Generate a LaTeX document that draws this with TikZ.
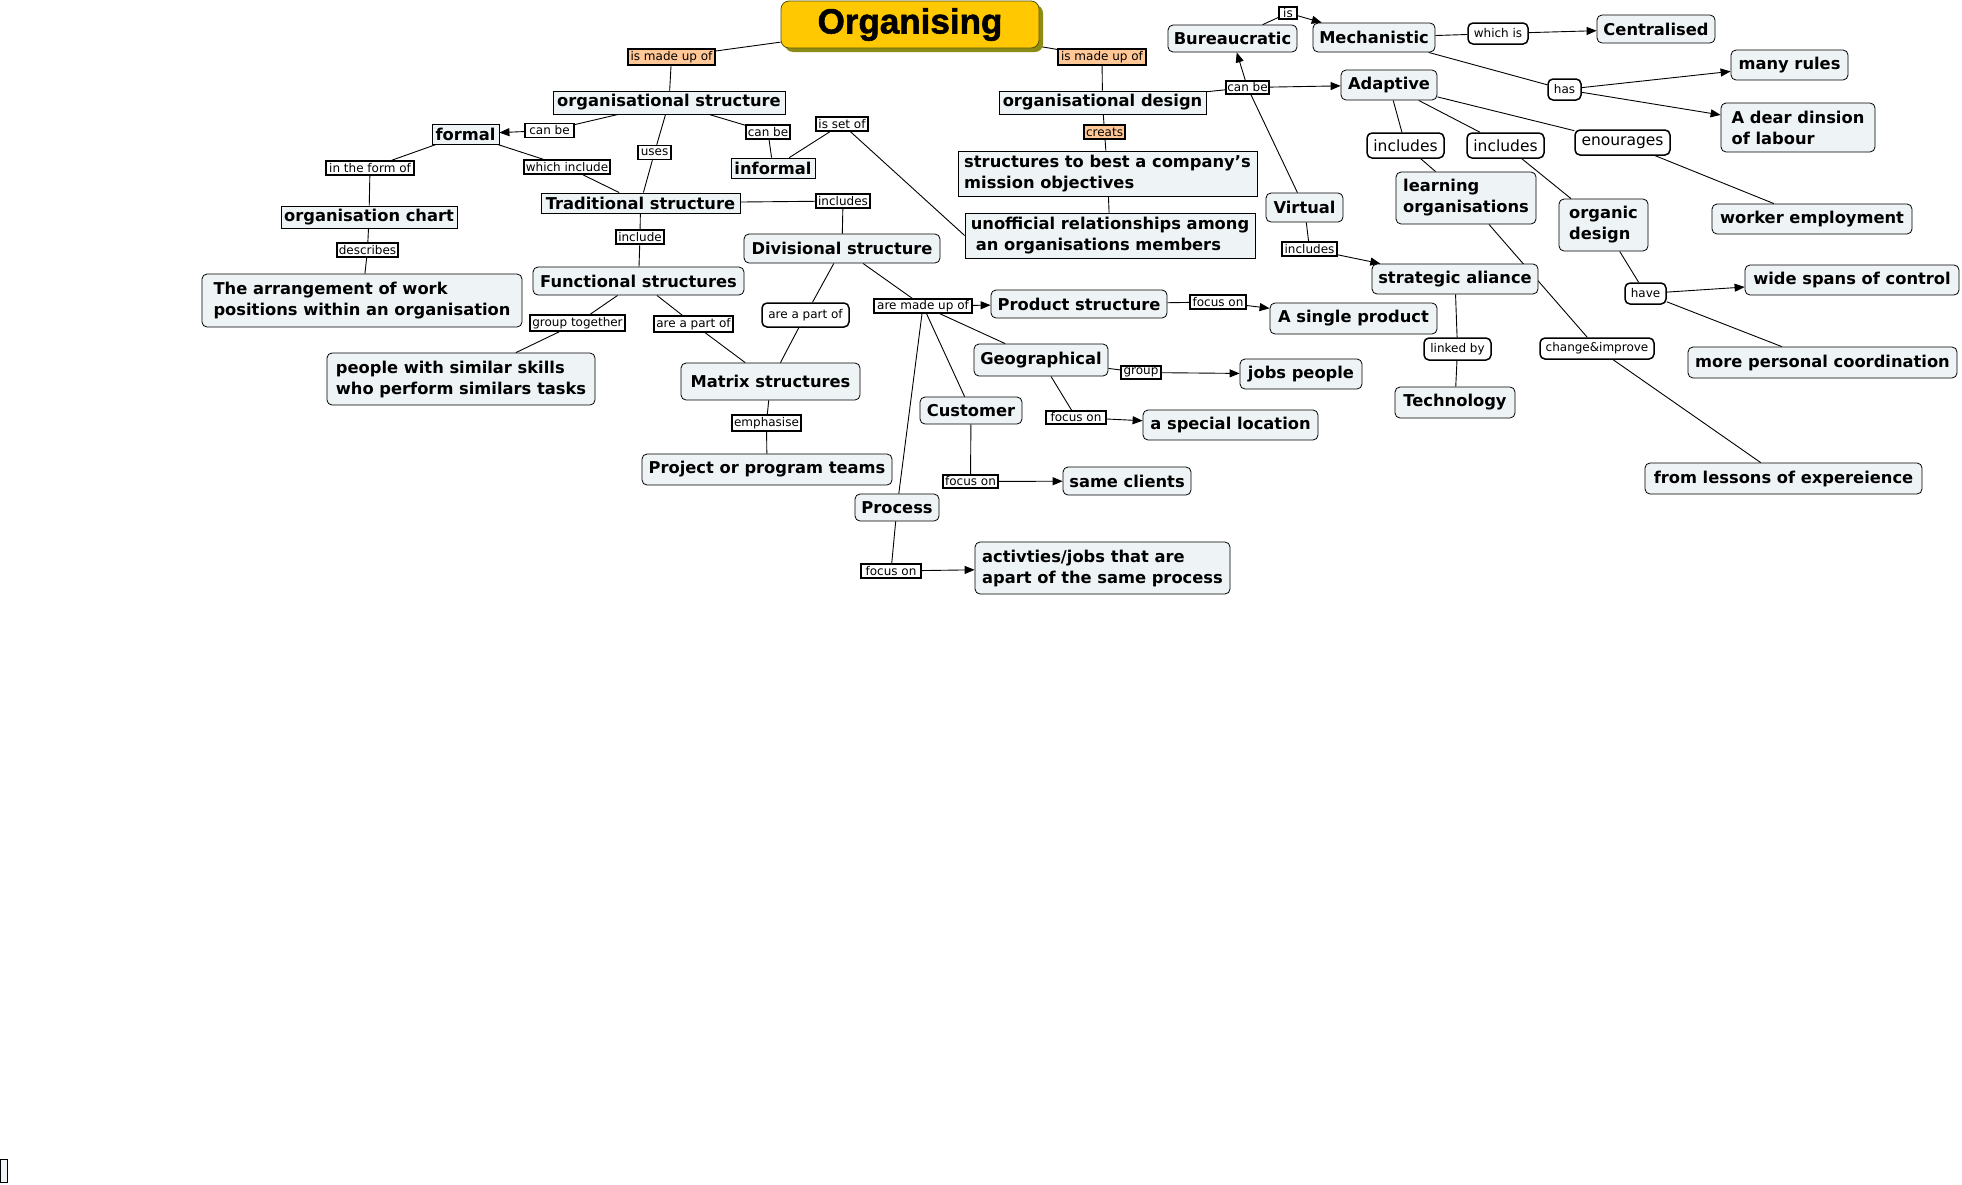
\documentclass[tikz,border=0pt]{standalone}
\usepackage{fontspec}
\setmainfont{DejaVu Sans}
\newfontfamily\titlefont[BoldFeatures={FakeBold=1.6}]{Liberation Sans}
\usetikzlibrary{arrows.meta,shadows}
\definecolor{cfill}{RGB}{238,244,245}
\definecolor{lorange}{RGB}{255,200,150}
\definecolor{gold}{RGB}{255,200,0}
\definecolor{olivesh}{RGB}{140,140,20}
\pgfdeclarelayer{bg}
\pgfsetlayers{bg,main}
\tikzset{
 concept/.style={draw=black, line width=0.8pt, fill=cfill, inner sep=2pt, font=\fontsize{16.3}{21}\selectfont\bfseries, align=center},
 cr/.style={concept, rounded corners=5pt},
 cs/.style={concept},
 lab/.style={draw=black, line width=1.5pt, fill=white, inner sep=1pt, font=\fontsize{12}{14}\selectfont},
 olab/.style={lab, fill=lorange},
 rlab/.style={lab, rounded corners=5pt},
 blab/.style={rlab, font=\fontsize{15.5}{18}\selectfont},
 link/.style={line width=0.9pt, draw=black},
 arr/.style={link, -{Triangle[length=10pt,width=8pt]}},
}
\begin{document}
\begin{tikzpicture}[x=1pt,y=-1pt]
\useasboundingbox (0,0) rectangle (1962,1184);
% title
\node[draw=olivesh!60!black, line width=0.8pt, fill=gold, rounded corners=8pt, minimum width=258pt, minimum height=47pt, font=\titlefont\fontsize{35}{40}\selectfont\bfseries, drop shadow={shadow xshift=4pt, shadow yshift=-4pt, fill=olivesh, opacity=1}] (org) at (910,24.5) {Organising};
% concepts (square)
\node[cs, minimum width=232pt, minimum height=23pt] (orgstruct) at (669,102.5) {organisational structure};
\node[cs, minimum width=67pt, minimum height=20pt] (formal) at (465.5,134) {formal};
\node[cs, minimum width=84pt, minimum height=20pt] (informal) at (773,168) {informal};
\node[cs, minimum width=199pt, minimum height=20pt] (trad) at (640.5,203) {Traditional structure};
\node[cs, minimum width=176pt, minimum height=22pt] (chart) at (369,217) {organisation chart};
\node[cs, minimum width=207pt, minimum height=23pt] (design) at (1102.5,102.5) {organisational design};
\node[cs, minimum width=299pt, minimum height=45pt, align=left] (structures) at (1107.5,173.5) {structures to best a company's\\mission objectives};
\node[cs, minimum width=290pt, minimum height=45pt, align=left] (unofficial) at (1110,235.5) {unofficial relationships among\\\hspace*{5pt}an organisations members};
% concepts (rounded)
\node[cr, minimum width=320pt, minimum height=53pt, align=left] (arrangement) at (362,300.5) {The arrangement of work\\positions within an organisation};
\node[cr, minimum width=211pt, minimum height=28pt] (functional) at (638.5,281) {Functional structures};
\node[cr, minimum width=196pt, minimum height=29pt] (divisional) at (842,248.5) {Divisional structure};
\node[cr, minimum width=268pt, minimum height=52pt, align=left] (people) at (461,379) {people with similar skills\\who perform similars tasks};
\node[cr, minimum width=179pt, minimum height=37pt] (matrix) at (770.5,381.5) {Matrix structures};
\node[cr, minimum width=250pt, minimum height=31pt] (project) at (767,469.5) {Project or program teams};
\node[cr, minimum width=84pt, minimum height=27pt] (process) at (897,507.5) {Process};
\node[cr, minimum width=176pt, minimum height=28pt] (product) at (1079,304) {Product structure};
\node[cr, minimum width=167pt, minimum height=31pt] (single) at (1353.5,318.5) {A single product};
\node[cr, minimum width=134pt, minimum height=32pt] (geo) at (1041,360) {Geographical};
\node[cr, minimum width=122pt, minimum height=30pt] (jobs) at (1301,374) {jobs people};
\node[cr, minimum width=102pt, minimum height=27pt] (customer) at (971,410.5) {Customer};
\node[cr, minimum width=175pt, minimum height=30pt] (location) at (1230.5,425) {a special location};
\node[cr, minimum width=128pt, minimum height=28pt] (clients) at (1127,481) {same clients};
\node[cr, minimum width=255pt, minimum height=52pt, align=left] (activities) at (1102.5,568) {activties/jobs that are\\apart of the same process};
\node[cr, minimum width=129pt, minimum height=27pt] (bureau) at (1232.5,38.5) {Bureaucratic};
\node[cr, minimum width=122pt, minimum height=29pt] (mech) at (1374,37.5) {Mechanistic};
\node[cr, minimum width=96pt, minimum height=30pt] (adaptive) at (1389,85) {Adaptive};
\node[cr, minimum width=77pt, minimum height=29pt] (virtual) at (1304.5,207.5) {Virtual};
\node[cr, minimum width=118pt, minimum height=28pt] (central) at (1656,29) {Centralised};
\node[cr, minimum width=117pt, minimum height=30pt] (rules) at (1789.5,65) {many rules};
\node[cr, minimum width=154pt, minimum height=49pt, align=left] (dear) at (1798,127.5) {A dear dinsion\\of labour};
\node[cr, minimum width=140pt, minimum height=52pt, align=left] (learning) at (1466,198) {learning\\organisations};
\node[cr, minimum width=89pt, minimum height=52pt, align=left] (organic) at (1603.5,225) {organic\\design};
\node[cr, minimum width=200pt, minimum height=30pt] (worker) at (1812,219) {worker employment};
\node[cr, minimum width=166pt, minimum height=30pt] (strategic) at (1455,279) {strategic aliance};
\node[cr, minimum width=214pt, minimum height=30pt] (wide) at (1852,280) {wide spans of control};
\node[cr, minimum width=269pt, minimum height=31pt] (more) at (1822.5,362.5) {more personal coordination};
\node[cr, minimum width=120pt, minimum height=31pt] (technology) at (1455,402.5) {Technology};
\node[cr, minimum width=277pt, minimum height=31pt] (lessons) at (1783.5,478.5) {from lessons of expereience};
\node[cs, inner sep=0pt, minimum width=7pt, minimum height=23pt] (stub) at (3.5,1170.5) {};
% linking phrases
\node[olab, minimum width=87pt, minimum height=16pt] (lmade1) at (671.5,57) {is made up of};
\node[olab, minimum width=88pt, minimum height=16pt] (lmade2) at (1102,57) {is made up of};
\node[olab, minimum width=41pt, minimum height=14pt] (lcreats) at (1104.5,132) {creats};
\node[lab, minimum width=49pt, minimum height=14pt] (lcanbe1) at (549.5,130.5) {can be};
\node[lab, minimum width=44pt, minimum height=14pt] (lcanbe2) at (768,132) {can be};
\node[lab, minimum width=52pt, minimum height=14pt] (lsetof) at (842,124) {is set of};
\node[lab, minimum width=33pt, minimum height=14pt] (luses) at (654.5,152.5) {uses};
\node[lab, minimum width=88pt, minimum height=14pt] (lform) at (370,168) {in the form of};
\node[lab, minimum width=86pt, minimum height=14pt] (lwhich) at (567,167) {which include};
\node[lab, minimum width=54pt, minimum height=14pt] (lincl1) at (843,201) {includes};
\node[lab, minimum width=48pt, minimum height=14pt] (lincl2) at (640,237) {include};
\node[lab, minimum width=61pt, minimum height=14pt] (ldesc) at (367.5,250) {describes};
\node[lab, minimum width=95pt, minimum height=16pt] (lgroup) at (577.5,323) {group together};
\node[lab, minimum width=79pt, minimum height=16pt] (lpart1) at (693.5,324) {are a part of};
\node[rlab, minimum width=87pt, minimum height=24pt] (lpart2) at (805.5,315) {are a part of};
\node[lab, minimum width=69pt, minimum height=16pt] (lemph) at (766.5,423) {emphasise};
\node[lab, minimum width=98pt, minimum height=14pt] (lmadeof) at (923,306) {are made up of};
\node[lab, minimum width=56pt, minimum height=14pt] (lfocus1) at (1218,302) {focus on};
\node[lab, minimum width=40pt, minimum height=13pt] (lgroupg) at (1141,372.5) {group};
\node[lab, minimum width=60pt, minimum height=13pt] (lfocus2) at (1076,417.5) {focus on};
\node[lab, minimum width=55pt, minimum height=13pt] (lfocus3) at (970.5,481.5) {focus on};
\node[lab, minimum width=60pt, minimum height=14pt] (lfocus4) at (891,571) {focus on};
\node[lab, minimum width=43pt, minimum height=13pt] (lcanbe3) at (1247.5,87.5) {can be};
\node[lab, minimum width=18pt, minimum height=12pt] (lis) at (1288,13) {is};
\node[rlab, minimum width=60pt, minimum height=21pt] (lwhichis) at (1498,33.5) {which is};
\node[rlab, minimum width=33pt, minimum height=21pt] (lhas) at (1564.5,89.5) {has};
\node[blab, minimum width=77pt, minimum height=25pt] (linc3) at (1405.5,145.5) {includes};
\node[blab, minimum width=77pt, minimum height=25pt] (linc4) at (1505.5,145.5) {includes};
\node[blab, minimum width=95pt, minimum height=25pt] (lenc) at (1622.5,142.5) {enourages};
\node[lab, minimum width=55pt, minimum height=14pt] (linc5) at (1309.5,249) {includes};
\node[rlab, minimum width=67pt, minimum height=22pt] (llinked) at (1457.5,349) {linked by};
\node[rlab, minimum width=114pt, minimum height=21pt] (lchange) at (1597,348.5) {change\&improve};
\node[rlab, minimum width=41pt, minimum height=21pt] (lhave) at (1645.5,293.5) {have};
% connectors
\begin{pgfonlayer}{bg}
\fill[white] (0,0) rectangle (1962,1184);
\draw[link] (org) -- (lmade1); \draw[link] (lmade1) -- (orgstruct);
\draw[link] (org) -- (lmade2); \draw[link] (lmade2) -- (design);
\draw[link] (orgstruct) -- (lcanbe1); \draw[arr] (lcanbe1) -- (formal);
\draw[link] (orgstruct) -- (lcanbe2); \draw[link] (lcanbe2) -- (informal);
\draw[link] (orgstruct) -- (luses); \draw[link] (luses) -- (trad);
\draw[link] (formal) -- (lform); \draw[link] (lform) -- (chart);
\draw[link] (formal) -- (lwhich); \draw[link] (lwhich) -- (trad);
\draw[link] (chart) -- (ldesc); \draw[link] (ldesc) -- (arrangement);
\draw[link] (informal) -- (lsetof); \draw[link] (lsetof) -- (unofficial.west);
\draw[link] (trad) -- (lincl2); \draw[link] (lincl2) -- (functional);
\draw[link] (trad) -- (lincl1); \draw[link] (lincl1) -- (divisional);
\draw[link] (functional) -- (lgroup); \draw[link] (lgroup) -- (people);
\draw[link] (functional) -- (lpart1); \draw[link] (lpart1) -- (matrix);
\draw[link] (divisional) -- (lpart2); \draw[link] (lpart2) -- (matrix);
\draw[link] (matrix) -- (lemph); \draw[link] (lemph) -- (project);
\draw[link] (divisional) -- (lmadeof); \draw[arr] (lmadeof) -- (product);
\draw[link] (lmadeof) -- (geo); \draw[link] (lmadeof) -- (customer); \draw[link] (lmadeof) -- (process);
\draw[link] (product) -- (lfocus1); \draw[arr] (lfocus1) -- (single);
\draw[link] (geo) -- (lgroupg); \draw[arr] (lgroupg) -- (jobs);
\draw[link] (geo) -- (lfocus2); \draw[arr] (lfocus2) -- (location);
\draw[link] (customer) -- (lfocus3); \draw[arr] (lfocus3) -- (clients);
\draw[link] (process) -- (lfocus4); \draw[arr] (lfocus4) -- (activities);
\draw[link] (design) -- (lcreats); \draw[link] (lcreats) -- (structures);
\draw[link] (structures) -- (unofficial);
\draw[link] (design) -- (lcanbe3); \draw[arr] (lcanbe3) -- (adaptive);
\draw[arr] (lcanbe3) -- (bureau); \draw[link] (lcanbe3) -- (virtual);
\draw[link] (bureau) -- (lis); \draw[arr] (lis) -- (mech);
\draw[link] (mech) -- (lwhichis); \draw[arr] (lwhichis) -- (central);
\draw[link] (mech) -- (lhas); \draw[arr] (lhas) -- (rules); \draw[arr] (lhas) -- (dear);
\draw[link] (adaptive) -- (linc3); \draw[link] (linc3) -- (learning);
\draw[link] (adaptive) -- (linc4); \draw[link] (linc4) -- (organic);
\draw[link] (adaptive) -- (lenc); \draw[link] (lenc) -- (worker);
\draw[link] (virtual) -- (linc5); \draw[arr] (linc5) -- (strategic);
\draw[link] (strategic) -- (llinked); \draw[link] (llinked) -- (technology);
\draw[link] (learning) -- (lchange); \draw[link] (lchange) -- (lessons);
\draw[link] (organic) -- (lhave); \draw[arr] (lhave) -- (wide); \draw[link] (lhave) -- (more);
\end{pgfonlayer}
\end{tikzpicture}
\end{document}
